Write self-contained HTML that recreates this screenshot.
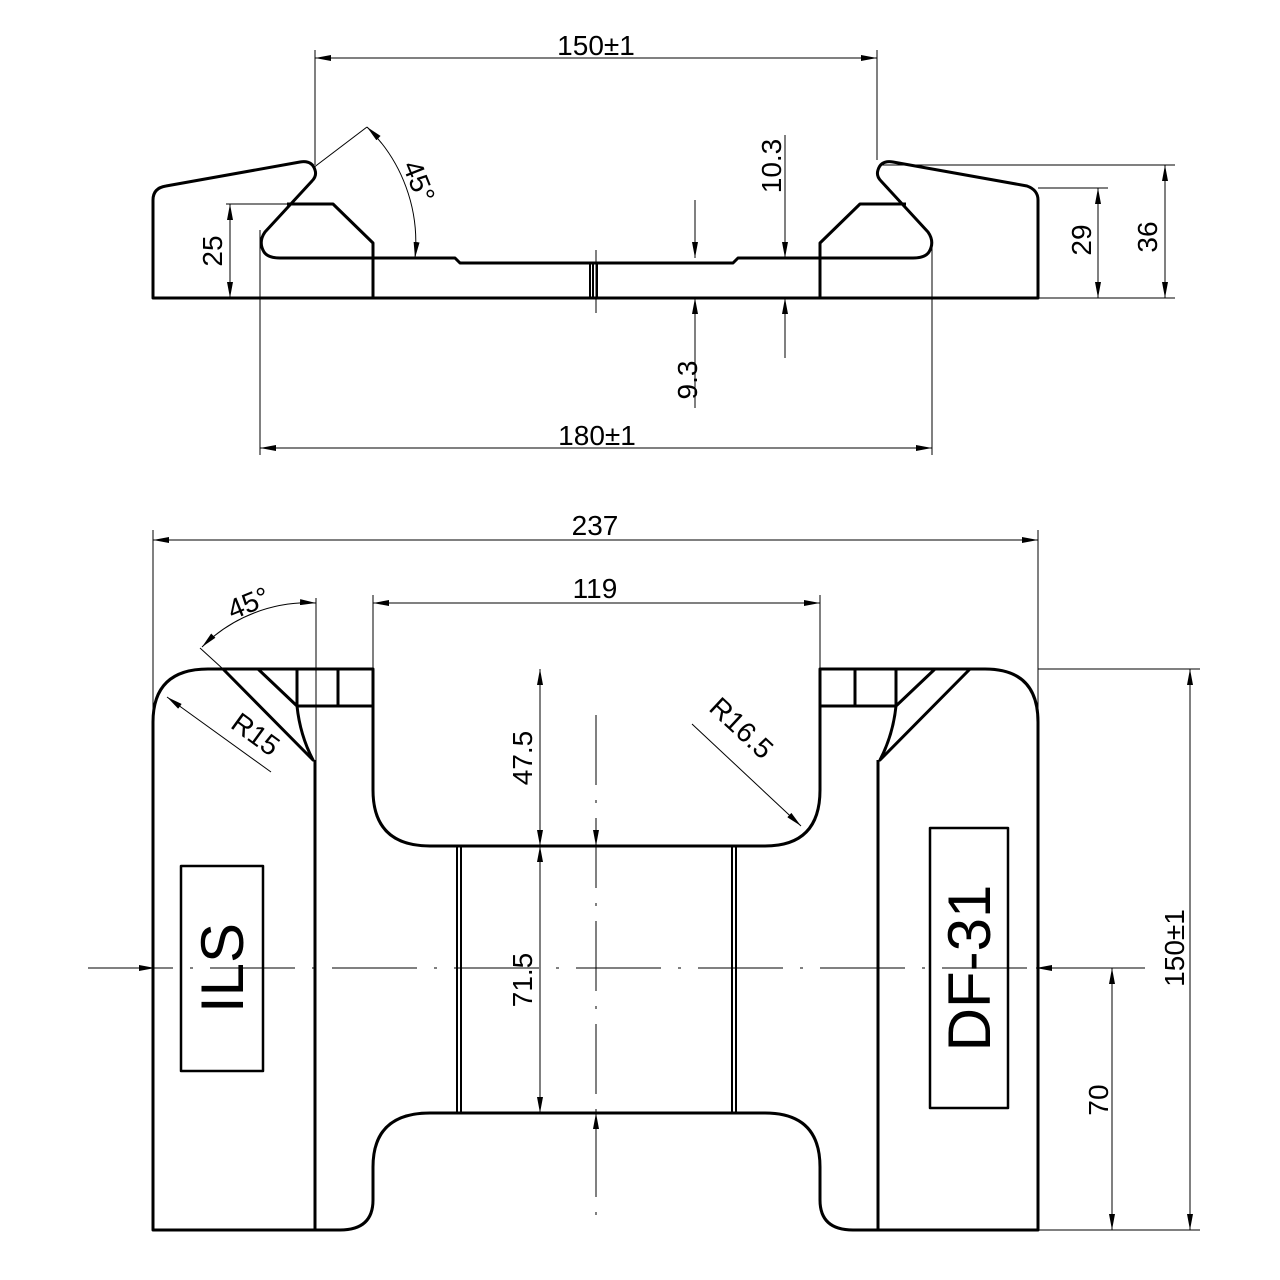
<!DOCTYPE html>
<html><head><meta charset="utf-8"><style>
html,body{margin:0;padding:0;background:#fff;}
svg{display:block;}
text{font-family:"Liberation Sans",sans-serif;fill:#000;}
</style></head><body>
<svg width="1280" height="1280" viewBox="0 0 1280 1280" xmlns="http://www.w3.org/2000/svg">
<defs>
<marker id="a" viewBox="0 0 16 6" refX="16" refY="3" markerWidth="16" markerHeight="6" markerUnits="userSpaceOnUse" orient="auto-start-reverse">
<path d="M0,0 L16,3 L0,6 Z" fill="#000"/></marker>
</defs>
<g fill="none" stroke="#000" stroke-width="3" stroke-linejoin="round">
<path d="M153,298 L153,200 Q153,188 166,186 L300,162 Q312,160 315,170 Q317,176 312,181 L265,232 Q258,242 264,252 Q268,258 280,258 L455,258 L460,263 L733,263 L738,258 L913,258 Q925,258 929,252 Q935,242 928,232 L881,181 Q876,176 878,170 Q881,160 893,162 L1027,186 Q1038,190 1038,200 L1038,298 Z"/>
<path d="M287,204 L333,204 L373,243 L373,298"/>
<path d="M906,204 L860,204 L820,243 L820,298"/>
<path d="M590,263 L590,298 M593,263 L593,298 M597,263 L597,298" stroke-width="2"/>
<path d="M153,1230 L153,722 Q153,669 208,669 L373,669 L373,790 Q373,846 430,846 L765,846 Q820,846 820,790 L820,669 L985,669 Q1038,669 1038,722 L1038,1230 L853,1230 Q820,1230 820,1200 L820,1167 Q820,1113 765,1113 L430,1113 Q373,1113 373,1167 L373,1200 Q373,1230 340,1230 Z"/>
<path d="M315,760 L315,1230 M878,760 L878,1230"/>
<path d="M223,669 L313,760 Q300,735 297,706 L297,669 M258,669 L297,706 L373,706 M338,669 L338,706"/>
<path d="M970,669 L880,760 Q893,735 896,706 L896,669 M935,669 L896,706 L820,706 M855,669 L855,706"/>
<path d="M457,846 L457,1113 M461,846 L461,1113 M732,846 L732,1113 M736,846 L736,1113" stroke-width="2"/>
<rect x="181" y="866" width="82" height="205" stroke-width="2.5"/>
<rect x="930" y="828" width="78" height="280" stroke-width="2.5"/>
</g>
<g fill="none" stroke="#000" stroke-width="1">
<path d="M88,968 L1145,968" stroke-dasharray="85,17,3,17"/>
<path d="M596,715 L596,1215" stroke-dasharray="70,15,3,15"/>
<path d="M596,250 L596,313"/>
<path d="M315,50 L315,165 M877,50 L877,160"/>
<path d="M315,58 L877,58" marker-start="url(#a)" marker-end="url(#a)"/>
<path d="M313,168 L367,127"/>
<path d="M367,127 A160,160 0 0 1 415,258" marker-start="url(#a)" marker-end="url(#a)"/>
<path d="M226,204 L287,204"/>
<path d="M230,204 L230,298" marker-start="url(#a)" marker-end="url(#a)"/>
<path d="M260,230 L260,455 M932,240 L932,455"/>
<path d="M260,448 L932,448" marker-start="url(#a)" marker-end="url(#a)"/>
<path d="M695,200 L695,258" marker-end="url(#a)"/>
<path d="M695,408 L695,298" marker-end="url(#a)"/>
<path d="M785,135 L785,258" marker-end="url(#a)"/>
<path d="M785,358 L785,298" marker-end="url(#a)"/>
<path d="M1038,188 L1108,188 M880,165 L1175,165 M1038,298 L1175,298"/>
<path d="M1098,188 L1098,298" marker-start="url(#a)" marker-end="url(#a)"/>
<path d="M1165,165 L1165,298" marker-start="url(#a)" marker-end="url(#a)"/>
<path d="M153,530 L153,720 M1038,530 L1038,720"/>
<path d="M153,540 L1038,540" marker-start="url(#a)" marker-end="url(#a)"/>
<path d="M373,595 L373,669 M820,595 L820,669 M316,598 L316,760"/>
<path d="M373,603 L820,603" marker-start="url(#a)" marker-end="url(#a)"/>
<path d="M200,648 L223,669"/>
<path d="M202,647 A150,150 0 0 1 316,603" marker-start="url(#a)" marker-end="url(#a)"/>
<path d="M271,772 L167,697" marker-end="url(#a)"/>
<path d="M692,724 L801,826" marker-end="url(#a)"/>
<path d="M540,669 L540,846" marker-start="url(#a)" marker-end="url(#a)"/>
<path d="M540,846 L540,1113" marker-start="url(#a)" marker-end="url(#a)"/>
<path d="M1038,669 L1200,669 M1038,1230 L1200,1230 M1038,968 L1120,968"/>
<path d="M1190,669 L1190,1230" marker-start="url(#a)" marker-end="url(#a)"/>
<path d="M1112,968 L1112,1230" marker-start="url(#a)" marker-end="url(#a)"/>
<path d="M153,968 L155,968" marker-end="url(#a)"/>
<path d="M1038,968 L1036,968" marker-end="url(#a)"/>
<path d="M596,835 L596,846" marker-end="url(#a)"/>
<path d="M596,1124 L596,1113" marker-end="url(#a)"/>
</g>
<g font-size="28">
<text x="596" y="55" text-anchor="middle">150±1</text>
<text x="597" y="445" text-anchor="middle">180±1</text>
<text transform="translate(410,185) rotate(68)" text-anchor="middle">45°</text>
<text transform="translate(222,251) rotate(-90)" text-anchor="middle">25</text>
<text transform="translate(697,380) rotate(-90)" text-anchor="middle">9.3</text>
<text transform="translate(781,166) rotate(-90)" text-anchor="middle">10.3</text>
<text transform="translate(1091,240) rotate(-90)" text-anchor="middle">29</text>
<text transform="translate(1157,237) rotate(-90)" text-anchor="middle">36</text>
<text x="595" y="535" text-anchor="middle">237</text>
<text x="595" y="598" text-anchor="middle">119</text>
<text transform="translate(252,612) rotate(-22)" text-anchor="middle">45°</text>
<text transform="translate(250,742) rotate(36)" text-anchor="middle">R15</text>
<text transform="translate(735,735) rotate(43)" text-anchor="middle">R16.5</text>
<text transform="translate(532,758) rotate(-90)" text-anchor="middle">47.5</text>
<text transform="translate(532,980) rotate(-90)" text-anchor="middle">71.5</text>
<text transform="translate(1184,948) rotate(-90)" text-anchor="middle">150±1</text>
<text transform="translate(1108,1100) rotate(-90)" text-anchor="middle">70</text>
</g>
<text transform="translate(243,968) rotate(-90)" text-anchor="middle" font-size="60">ILS</text>
<text transform="translate(990,968) rotate(-90)" text-anchor="middle" font-size="60">DF-31</text>
</svg>
</body></html>
